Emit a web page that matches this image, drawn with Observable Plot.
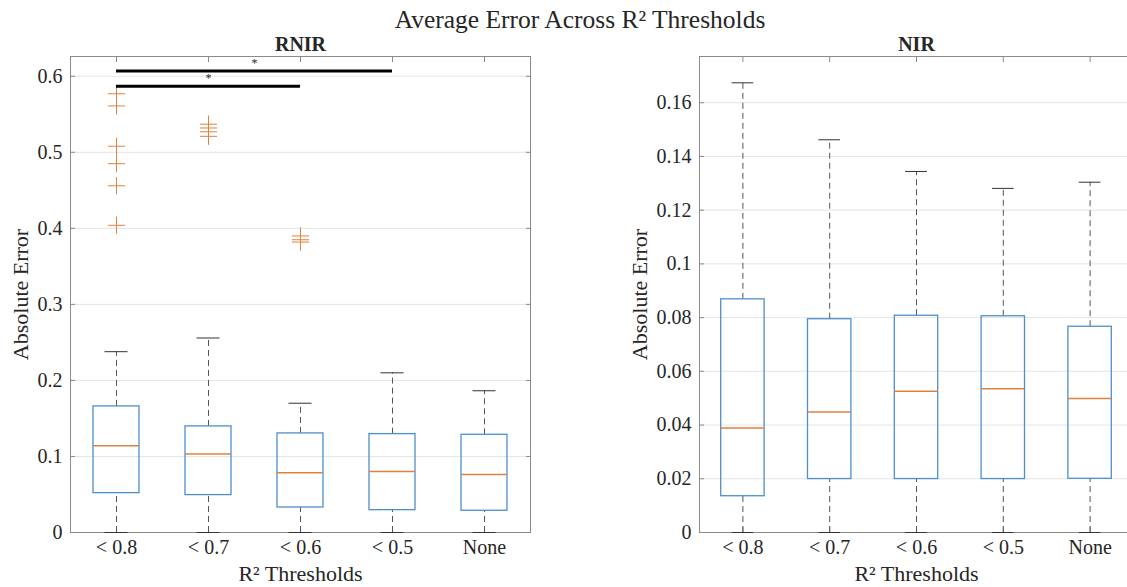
<!DOCTYPE html>
<html><head><meta charset="utf-8">
<script src="https://cdn.jsdelivr.net/npm/d3@7"></script>
<script src="https://cdn.jsdelivr.net/npm/@observablehq/plot@0.6"></script>
<style>
html,body{margin:0;padding:0;background:#fff;}
body{width:1127px;height:587px;overflow:hidden;position:relative;font-family:"Liberation Serif","Times New Roman",serif;}
#title{position:absolute;left:0;width:1160px;top:6px;text-align:center;font-size:25.5px;line-height:28px;color:#262626;}
#left{position:absolute;left:0;top:0;width:560px;}
#right{position:absolute;left:560px;top:0;width:580px;}
#left svg,#right svg{max-width:none !important;}
</style></head><body>
<div id="title">Average Error Across R² Thresholds</div>
<div id="left"></div><div id="right"></div>
<script>
const categories = ["< 0.8", "< 0.7", "< 0.6", "< 0.5", "None"];

// RNIR box statistics
const rnirLow = [0, 0, 0, 0, 0];
const rnirQ1 = [0.0518, 0.0492, 0.0329, 0.0294, 0.0286];
const rnirMedian = [0.114, 0.1031, 0.0786, 0.0803, 0.0763];
const rnirQ3 = [0.1658, 0.1395, 0.1303, 0.1294, 0.1285];
const rnirHigh = [0.2378, 0.2558, 0.170, 0.210, 0.1864];
const rnirOutliers = [
  [0.577, 0.561, 0.508, 0.485, 0.456, 0.404],
  [0.537, 0.532, 0.527, 0.521],
  [0.390, 0.385, 0.382],
  [],
  []
];
const rnirSigFrom = [1, 1];
const rnirSigTo = [4, 3];
const rnirSigY = [0.607, 0.587];
const rnirYTicks = [0, 0.1, 0.2, 0.3, 0.4, 0.5, 0.6];

// NIR box statistics
const nirLow = [0, 0, 0, 0, 0];
const nirQ1 = [0.0135, 0.0199, 0.0199, 0.0199, 0.0200];
const nirMedian = [0.0389, 0.0449, 0.0526, 0.0535, 0.0499];
const nirQ3 = [0.0868, 0.0794, 0.0807, 0.0805, 0.0766];
const nirHigh = [0.1674, 0.1462, 0.1344, 0.1281, 0.1304];
const nirYTicks = [0, 0.02, 0.04, 0.06, 0.08, 0.1, 0.12, 0.14, 0.16];

const BLUE = "#4d8fcc", ORANGE = "#e0813c", FRAME = "#8a8a8a", TXT = "#262626";
const fmt = d => String(+d.toFixed(2));

function panel({title, low, q1, med, q3, high, outliers, sig, yTicks, yMax, width, marginLeft, marginRight, labelDx}) {
  const boxes = categories.map((c, k) => ({i: k + 1, low: low[k], q1: q1[k], med: med[k], q3: q3[k], high: high[k]}));
  const outs = (outliers || []).flatMap((arr, k) => arr.map(v => ({i: k + 1, v})));
  const xt = categories.map((c, k) => k + 1);
  const marks = [
    Plot.gridY(yTicks.filter(v => v > 0), {stroke: "#e4e4e4", strokeOpacity: 1}),
    Plot.frame({stroke: FRAME}),
    Plot.axisY(yTicks, {anchor: "left", tickSize: -5, tickFormat: () => "", color: FRAME, label: null}),
    Plot.axisY(yTicks, {anchor: "right", tickSize: -5, tickFormat: () => "", color: FRAME, label: null}),
    Plot.axisX(xt, {anchor: "top", tickSize: -5, tickFormat: () => "", color: FRAME, label: null}),
    Plot.axisX(xt, {anchor: "bottom", tickSize: -5, tickFormat: () => "", color: FRAME, label: null}),
    Plot.axisY(yTicks, {anchor: "left", tickSize: 0, tickPadding: 8, tickFormat: fmt, color: TXT, fontSize: 20, label: null}),
    Plot.axisX(xt, {anchor: "bottom", tickSize: 0, tickPadding: 7, tickFormat: d => categories[d - 1], color: TXT, fontSize: 20, label: null}),
    Plot.ruleX(boxes, {x: "i", y1: "q3", y2: "high", stroke: "#555", strokeDasharray: "6,4"}),
    Plot.ruleX(boxes, {x: "i", y1: "low", y2: "q1", stroke: "#555", strokeDasharray: "6,4"}),
    Plot.ruleY(boxes, {y: "high", x1: d => d.i - 0.125, x2: d => d.i + 0.125, stroke: "#333"}),
    Plot.ruleY(boxes, {y: "low", x1: d => d.i - 0.125, x2: d => d.i + 0.125, stroke: "#333"}),
    Plot.rect(boxes, {x1: d => d.i - 0.25, x2: d => d.i + 0.25, y1: "q1", y2: "q3", fill: "none", stroke: BLUE, strokeWidth: 1.3}),
    Plot.ruleY(boxes, {y: "med", x1: d => d.i - 0.25, x2: d => d.i + 0.25, stroke: ORANGE, strokeWidth: 1.5}),
    Plot.dot(outs, {x: "i", y: "v", symbol: "plus", r: 5.6, stroke: ORANGE, strokeWidth: 1}),
    Plot.text([title], {text: d => d, frameAnchor: "top", dy: -6, lineAnchor: "bottom", fontWeight: "bold", fontSize: 20, fill: TXT}),
    Plot.text(["Absolute Error"], {text: d => d, frameAnchor: "left", dx: labelDx, rotate: -90, textAnchor: "middle", lineAnchor: "middle", fontSize: 22, fill: TXT}),
    Plot.text(["R² Thresholds"], {text: d => d, frameAnchor: "bottom", dy: 41, textAnchor: "middle", lineAnchor: "middle", fontSize: 22, fill: TXT})
  ];
  if (sig) {
    marks.push(Plot.ruleY(sig, {y: "y", x1: "from", x2: "to", stroke: "black", strokeWidth: 3}));
    marks.push(Plot.text(sig, {x: d => (d.from + d.to) / 2, y: "y", text: () => "*", dy: -8, lineAnchor: "middle", fontSize: 12, fill: TXT}));
  }
  return Plot.plot({
    width, height: 587,
    marginLeft, marginRight, marginTop: 56, marginBottom: 55,
    style: {fontFamily: '"Liberation Serif","Times New Roman",serif', background: "transparent", overflow: "visible", maxWidth: "none"},
    x: {domain: [0.5, 5.5], axis: null},
    y: {domain: [0, yMax], axis: null},
    marks
  });
}

const sig = rnirSigFrom.map((f, k) => ({from: f, to: rnirSigTo[k], y: rnirSigY[k]}));

document.getElementById("left").append(panel({
  title: "RNIR", low: rnirLow, q1: rnirQ1, med: rnirMedian, q3: rnirQ3, high: rnirHigh,
  outliers: rnirOutliers, sig, yTicks: rnirYTicks, yMax: 0.626,
  width: 560, marginLeft: 70, marginRight: 30, labelDx: -50
}));
document.getElementById("right").append(panel({
  title: "NIR", low: nirLow, q1: nirQ1, med: nirMedian, q3: nirQ3, high: nirHigh,
  outliers: null, sig: null, yTicks: nirYTicks, yMax: 0.1772,
  width: 580, marginLeft: 139, marginRight: 7, labelDx: -60
}));
</script>
</body></html>
